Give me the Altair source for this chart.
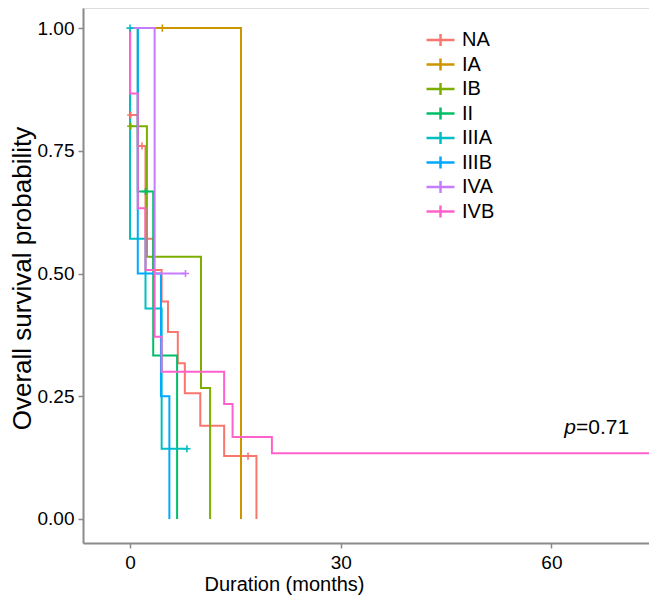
import altair as alt
import pandas as pd

groups = ["NA", "IA", "IB", "II", "IIIA", "IIIB", "IVA", "IVB"]
colors = ["#F8766D", "#CD9600", "#7CAE00", "#00BE67", "#00BFC4", "#00A9FF", "#C77CFF", "#FF61CC"]

# Kaplan-Meier step points (time in months, survival probability)
na_t = [0, 0, 1.1, 2.2, 3.3, 4.5, 5.4, 6.8, 7.8, 10.0, 13.4, 18.0]
na_s = [1.0, 0.823, 0.760, 0.571, 0.507, 0.443, 0.381, 0.317, 0.256, 0.190, 0.128, 0.0]
ia_t = [0, 15.8]
ia_s = [1.0, 0.0]
ib_t = [0, 0, 2.4, 10.1, 11.4]
ib_s = [1.0, 0.800, 0.534, 0.267, 0.0]
ii_t = [0, 1.1, 3.3, 6.7]
ii_s = [1.0, 0.667, 0.333, 0.0]
iiia_t = [0, 0, 2.2, 4.5, 8.1]
iiia_s = [1.0, 0.571, 0.429, 0.143, 0.143]
iiib_t = [0, 1.1, 4.4, 5.6]
iiib_s = [1.0, 0.500, 0.250, 0.0]
iva_t = [0, 3.5, 7.9]
iva_s = [1.0, 0.500, 0.500]
ivb_t = [0, 0, 1.1, 2.2, 3.5, 4.5, 13.4, 14.6, 20.2, 80.0]
ivb_s = [1.0, 0.867, 0.633, 0.507, 0.371, 0.300, 0.234, 0.167, 0.134, 0.134]

# censored observations
cens_group = ["NA", "NA", "NA", "IA", "IB", "II", "IIIA", "IIIA", "IVA"]
cens_t = [0.1, 1.7, 16.8, 4.6, 0.1, 2.2, 0.0, 8.1, 7.9]
cens_s = [0.823, 0.760, 0.128, 1.0, 0.800, 0.667, 1.0, 0.143, 0.500]

p_parts = ["p", "=0.71"]
p_t = 63.5
p_s = 0.185

series = {
    "NA": (na_t, na_s), "IA": (ia_t, ia_s), "IB": (ib_t, ib_s), "II": (ii_t, ii_s),
    "IIIA": (iiia_t, iiia_s), "IIIB": (iiib_t, iiib_s), "IVA": (iva_t, iva_s), "IVB": (ivb_t, ivb_s),
}
rows = []
for gi, g in enumerate(groups):
    ts, ss = series[g]
    for i, (t, s) in enumerate(zip(ts, ss)):
        rows.append({"group": g, "time": t, "surv": s, "order": i, "gorder": gi})
df = pd.DataFrame(rows)
cdf = pd.DataFrame({"group": cens_group, "time": cens_t, "surv": cens_s})

FONT = "Liberation Sans"
xscale = alt.Scale(domain=[-6.7, 73.9], nice=False, zero=False)
yscale = alt.Scale(domain=[-0.049, 1.041], nice=False, zero=False)
cscale = alt.Scale(domain=groups, range=colors)

xaxis = alt.Axis(values=[0, 30, 60], title="Duration (months)", grid=False,
                 domainColor="#8a8a8a", domainWidth=2, tickColor="#8a8a8a", tickWidth=1.5, tickSize=5,
                 labelFont=FONT, labelFontSize=19, labelColor="black", labelPadding=5,
                 titleFont=FONT, titleFontSize=20, titleFontWeight="normal", titleColor="black",
                 titleX=201, titleY=41, titleBaseline="middle", titleAlign="center")
yaxis = alt.Axis(values=[0, 0.25, 0.5, 0.75, 1.0], format=".2f", title="Overall survival probability",
                 grid=False, domainColor="#8a8a8a", domainWidth=2, tickColor="#8a8a8a", tickWidth=1.5,
                 tickSize=5, labelFont=FONT, labelFontSize=19, labelColor="black", labelPadding=4,
                 titleFont=FONT, titleFontSize=26, titleFontWeight="normal", titleColor="black",
                 titleX=-61, titleY=270, titleBaseline="middle", titleAlign="center", titleAngle=-90)

lines = alt.Chart(df).mark_line(interpolate="step-after", strokeWidth=2, clip=True).encode(
    x=alt.X("time:Q", scale=xscale, axis=xaxis),
    y=alt.Y("surv:Q", scale=yscale, axis=yaxis),
    color=alt.Color("group:N", scale=cscale, sort=groups,
                    legend=alt.Legend(orient="none", legendX=342, legendY=22, title=None,
                                      symbolType="M-1,0H1M0,-0.42V0.42", symbolSize=784,
                                      symbolStrokeWidth=2.5, labelFont=FONT, labelFontSize=20,
                                      labelColor="black", labelOffset=6, clipHeight=20,
                                      rowPadding=4.5)),
    order=alt.Order("order:Q"),
    detail="group:N",
)

marks = alt.Chart(cdf).mark_point(shape="M-1,0H1M0,-1V1", filled=False, size=50, strokeWidth=1.6,
                                  opacity=1).encode(
    x=alt.X("time:Q", scale=xscale),
    y=alt.Y("surv:Q", scale=yscale),
    color=alt.Color("group:N", scale=cscale, legend=None),
)

pdf = pd.DataFrame({"lab": p_parts, "time": [p_t, p_t], "surv": [p_s, p_s]})
ptxt1 = alt.Chart(pdf.iloc[[0]]).mark_text(font=FONT, fontSize=21, fontStyle="italic", align="right",
                                           baseline="middle", color="black").encode(
    x=alt.X("time:Q", scale=xscale), y=alt.Y("surv:Q", scale=yscale), text="lab:N")
ptxt2 = alt.Chart(pdf.iloc[[1]]).mark_text(font=FONT, fontSize=21, align="left",
                                           baseline="middle", color="black").encode(
    x=alt.X("time:Q", scale=xscale), y=alt.Y("surv:Q", scale=yscale), text="lab:N")

chart = alt.layer(lines, marks, ptxt1, ptxt2).properties(
    width=566, height=535,
    autosize=alt.AutoSizeParams(type="none"),
    padding={"left": 75, "top": 0, "right": 0, "bottom": 55},
).configure_view(stroke=None).configure(background="white")

chart.save("out.html", embed_options={"renderer": "svg", "actions": False})
